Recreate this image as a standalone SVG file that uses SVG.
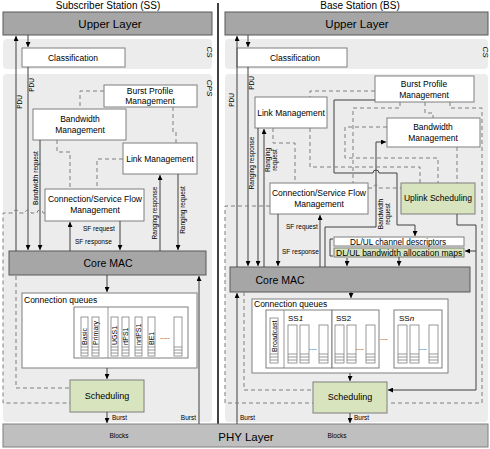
<svg xmlns="http://www.w3.org/2000/svg" width="490" height="449" viewBox="0 0 490 449">
<defs>
<marker id="ah" viewBox="0 0 6 6" refX="6" refY="3" markerWidth="5" markerHeight="5" orient="auto" markerUnits="userSpaceOnUse"><path d="M0,0 L6,3 L0,6 z" fill="#000"/></marker>
<style>
text{font-family:"Liberation Sans",Arial,sans-serif;fill:#000}
.panel{fill:#ececec}
.box{fill:#fff;stroke:#7f7f7f;stroke-width:1}
.green{fill:#d7e4bd;stroke:#7f7f7f;stroke-width:1}
.layer{fill:#a6a6a6;stroke:#595959;stroke-width:1}
.ln{stroke:#404040;stroke-width:1;fill:none}
.arr{stroke:#404040;stroke-width:1;fill:none;marker-end:url(#ah)}
.dash{stroke:#7f7f7f;stroke-width:1;stroke-dasharray:4 3;fill:none}
.t9{font-size:8.5px;text-anchor:middle}
.t7{font-size:6.5px}
.q{fill:#fff;stroke:#7f7f7f;stroke-width:0.8}
.st{stroke:#7f7f7f;stroke-width:0.8}
</style>
</defs>
<rect width="490" height="449" fill="#fff"/>
<g id="titles">
<text x="108" y="8.5" font-size="10" text-anchor="middle">Subscriber Station (SS)</text>
<text x="360" y="8.5" font-size="10" text-anchor="middle">Base Station (BS)</text>
</g>
<g id="panels">
<rect class="panel" x="3" y="39" width="209" height="30" rx="4"/>
<rect class="panel" x="3" y="74" width="209" height="348" rx="4"/>
<rect class="panel" x="225" y="39" width="263" height="30" rx="4"/>
<rect class="panel" x="225" y="74" width="263" height="348" rx="4"/>
<text x="205" y="52" font-size="8" font-style="italic" transform="rotate(90 205 52)" text-anchor="middle" dy="-2">CS</text>
<text x="205" y="88" font-size="8" font-style="italic" transform="rotate(90 205 88)" text-anchor="middle" dy="-2">CPS</text>
<text x="481" y="52" font-size="8" font-style="italic" transform="rotate(90 481 52)" text-anchor="middle" dy="-2">CS</text>
<line x1="218" y1="3" x2="218" y2="424" stroke="#000" stroke-width="1.5"/>
</g>
<g id="ss-upper"><rect class="layer" x="3" y="12" width="209" height="23"/><text x="110" y="28" font-size="11.5" text-anchor="middle">Upper Layer</text></g>
<g id="bs-upper"><rect class="layer" x="225" y="12" width="263" height="23"/><text x="357" y="28" font-size="11.5" text-anchor="middle">Upper Layer</text></g>
<g id="ss-class"><rect class="box" x="22" y="48" width="103" height="19"/><text class="t9" x="73" y="61">Classification</text></g>
<g id="bs-class"><rect class="box" x="237" y="48" width="110" height="19"/><text class="t9" x="295" y="61">Classification</text></g>
<g id="ss-bpm"><rect class="box" x="104" y="85" width="93" height="22"/><text class="t9" x="150" y="94">Burst Profile</text><text class="t9" x="150" y="104">Management</text></g>
<g id="ss-bwm"><rect class="box" x="33" y="109" width="93" height="31"/><text class="t9" x="80" y="122">Bandwidth</text><text class="t9" x="80" y="133">Management</text></g>
<g id="ss-link"><rect class="box" x="123" y="143" width="74" height="31"/><text class="t9" x="160" y="162">Link Management</text></g>
<g id="ss-csf"><rect class="box" x="45" y="189" width="99" height="32"/><text class="t9" x="95" y="202">Connection/Service Flow</text><text class="t9" x="95" y="213">Management</text></g>
<g id="ss-core"><rect class="layer" x="9" y="251" width="197" height="24" fill="#a0a0a0"/><text x="108" y="267" font-size="10.5" text-anchor="middle">Core MAC</text></g>
<g id="ss-queues">
<rect class="box" x="22" y="293" width="175" height="75"/>
<text x="24" y="303" font-size="8.5">Connection queues</text>
<rect class="box" x="74" y="307" width="114" height="51"/>
<line class="st" x1="108" y1="307" x2="108" y2="358"/>
<g id="ssq">
<rect class="q" x="81" y="317" width="7" height="39"/><rect class="q" x="92" y="317" width="7" height="39"/><rect class="q" x="111" y="317" width="7" height="39"/><rect class="q" x="122" y="317" width="7" height="39"/><rect class="q" x="135" y="317" width="7" height="39"/><rect class="q" x="148" y="317" width="7" height="39"/><rect class="q" x="174" y="317" width="8" height="39"/>
<path class="st" d="M81,347h7M81,350h7M81,353h7M92,347h7M92,350h7M92,353h7M111,347h7M111,350h7M111,353h7M122,347h7M122,350h7M122,353h7M135,347h7M135,350h7M135,353h7M148,347h7M148,350h7M148,353h7M174,347h8M174,350h8M174,353h8"/>
</g>
<g font-size="7">
<text transform="translate(87 345) rotate(-90)">Basic</text>
<text transform="translate(98 345) rotate(-90)">Primary</text>
<text transform="translate(117 345) rotate(-90)">UGS1</text>
<text transform="translate(128 345) rotate(-90)">rtPS1</text>
<text transform="translate(141 345) rotate(-90)">nrtPS1</text>
<text transform="translate(154 345) rotate(-90)">BE1</text>
<text x="160" y="339">.....</text>
</g>
</g>
<g id="ss-sched"><rect class="green" x="70" y="380" width="74" height="32"/><text x="107" y="399" font-size="9" text-anchor="middle">Scheduling</text></g>
<g id="bs-link"><rect class="box" x="255" y="97" width="72" height="31"/><text class="t9" x="291" y="116">Link Management</text></g>
<g id="bs-bpm"><rect class="box" x="375" y="76" width="99" height="26"/><text class="t9" x="424" y="87">Burst Profile</text><text class="t9" x="424" y="98">Management</text></g>
<g id="bs-bwm"><rect class="box" x="387" y="118" width="93" height="29"/><text class="t9" x="433" y="130">Bandwidth</text><text class="t9" x="433" y="141">Management</text></g>
<g id="bs-csf"><rect class="box" x="270" y="183" width="98" height="31"/><text class="t9" x="319" y="196">Connection/Service Flow</text><text class="t9" x="319" y="207">Management</text></g>
<g id="bs-uls"><rect class="green" x="401" y="183" width="74" height="31"/><text class="t9" x="438" y="201">Uplink Scheduling</text></g>
<g id="bs-dlul">
<rect class="box" x="334" y="237" width="130" height="9"/><text x="350" y="245" font-size="8.2">DL/UL channel descriptors</text>
<rect class="green" x="334" y="248" width="130" height="9"/><text x="336" y="256" font-size="8.5">DL/UL bandwidth allocation maps</text>
<path class="ln" d="M333,239H330V256H333"/>
</g>
<g id="bs-core"><rect class="layer" x="230" y="267" width="240" height="25" fill="#a0a0a0"/><text x="280" y="284" font-size="10.5" text-anchor="middle">Core MAC</text></g>
<g id="bs-queues">
<rect class="box" x="252" y="299" width="196" height="74"/>
<text x="254" y="307" font-size="8.5">Connection queues</text>
<rect class="box" x="266" y="310" width="66" height="58"/>
<line class="st" x1="284" y1="310" x2="284" y2="368"/>
<rect class="box" x="332" y="310" width="47" height="58"/>
<rect class="box" x="394" y="310" width="48" height="58"/>
<rect class="q" x="270" y="318" width="8" height="45"/>
<rect class="q" x="288" y="325" width="9" height="38"/><rect class="q" x="300" y="325" width="9" height="38"/><rect class="q" x="319" y="325" width="9" height="38"/>
<rect class="q" x="335" y="325" width="9" height="38"/><rect class="q" x="347" y="325" width="9" height="38"/><rect class="q" x="366" y="325" width="9" height="38"/>
<rect class="q" x="398" y="325" width="9" height="38"/><rect class="q" x="410" y="325" width="9" height="38"/><rect class="q" x="429" y="325" width="9" height="38"/>
<path class="st" d="M270,354h8M270,357h8M270,360h8M288,354h9M288,357h9M288,360h9M300,354h9M300,357h9M300,360h9M319,354h9M319,357h9M319,360h9M335,354h9M335,357h9M335,360h9M347,354h9M347,357h9M347,360h9M366,354h9M366,357h9M366,360h9M398,354h9M398,357h9M398,360h9M410,354h9M410,357h9M410,360h9M429,354h9M429,357h9M429,360h9"/>
<text transform="translate(277 352) rotate(-90)" font-size="7">Broadcast</text>
<text x="288" y="321" font-size="8">SS<tspan font-style="italic">1</tspan></text>
<text x="336" y="321" font-size="8">SS2</text>
<text x="399" y="321" font-size="8">SS<tspan font-style="italic">n</tspan></text>
<g font-size="7"><text x="309" y="350">....</text><text x="356" y="350">....</text><text x="419" y="350">....</text></g>
<text x="380" y="340" font-size="7">....</text>
</g>
<g id="bs-sched"><rect class="green" x="313" y="382" width="74" height="31"/><text x="350" y="400" font-size="9" text-anchor="middle">Scheduling</text></g>
<g id="phy"><rect x="3" y="424" width="485" height="23" fill="#bfbfbf" stroke="#7f7f7f"/><text x="246" y="441" font-size="11.5" text-anchor="middle">PHY Layer</text>
<text x="119" y="438" font-size="6.5" text-anchor="middle">Blocks</text><text x="337" y="438" font-size="6.5" text-anchor="middle">Blocks</text></g>
<g id="connectors">
<path class="arr" d="M16,251V36"/>
<path class="arr" d="M28,35V47"/>
<path class="arr" d="M28,67V250"/>
<path class="arr" d="M40,140V250"/>
<path class="arr" d="M70,251V222"/>
<path class="arr" d="M120,221V250"/>
<path class="arr" d="M160,251V175"/>
<path class="arr" d="M178,174V250"/>
<path class="arr" d="M107,275V292"/>
<path class="arr" d="M107,368V379"/>
<path class="arr" d="M107,412V423"/>
<path class="arr" d="M199,424V276"/>
<path class="dash" d="M104,91H80V109"/>
<path class="dash" d="M173,107V132H176V143"/>
<path class="dash" d="M57,140V152H70V189"/>
<path class="dash" d="M123,159H97V189"/>
<path class="dash" d="M45,213H43a3,3 0 0 0 -6,0H31a3,3 0 0 0 -6,0H19a3,3 0 0 0 -6,0H3V403H70"/>
<path class="dash" d="M16,276V388H70"/>
<g class="t7">
<text transform="translate(22 102) rotate(-90)" text-anchor="middle">PDU</text>
<text transform="translate(34 85) rotate(-90)" text-anchor="middle">PDU</text>
<text transform="translate(38 178) rotate(-90)" text-anchor="middle">Bandwidth request</text>
<text transform="translate(157 213) rotate(-90)" text-anchor="middle">Ranging response</text>
<text transform="translate(185 210) rotate(-90)" text-anchor="middle">Ranging request</text>
<text x="83" y="231">SF request</text>
<text x="75" y="244">SF response</text>
<text x="112" y="420">Burst</text>
<text x="196" y="420" text-anchor="end">Burst</text>
</g>
<path class="arr" d="M237,267V36"/>
<path class="arr" d="M248,35V47"/>
<path class="arr" d="M248,67V266"/>
<path class="arr" d="M264,267V129"/>
<path class="arr" d="M258,128V266"/>
<path class="arr" d="M278,214V266"/>
<path class="arr" d="M320,267V215"/>
<path class="arr" d="M237,424V293"/>
<path class="arr" d="M351,292V298"/>
<path class="arr" d="M350,373V381"/>
<path class="arr" d="M350,413V423"/>
<path class="arr" d="M325,267V227H376V142H386"/>
<path class="arr" d="M375,100H334V173H373a3,3 0 0 1 6,0H397V225H415V236"/>
<path class="arr" d="M457,214V225H476V390H388"/>
<path class="arr" d="M476,251H465"/>
<path class="arr" d="M399,257V266"/>
<path class="arr" d="M347,258V266"/>
<path class="dash" d="M375,91H310V97"/>
<path class="dash" d="M400,102V108H353V183"/>
<path class="dash" d="M425,102V113H433V118"/>
<path class="dash" d="M450,102V108H482V403H388"/>
<path class="dash" d="M387,127H345V158H438V183"/>
<path class="dash" d="M310,128V167H420V183"/>
<path class="dash" d="M273,128V143H295V183"/>
<path class="dash" d="M457,147V183"/>
<path class="dash" d="M368,188H373a3,3 0 0 1 6,0H401"/>
<path class="dash" d="M270,206H225V403H313"/>
<path class="dash" d="M244,292V390H313"/>
<g class="t7">
<text transform="translate(234 100) rotate(-90)" text-anchor="middle">PDU</text>
<text transform="translate(254 83) rotate(-90)" text-anchor="middle">PDU</text>
<text transform="translate(254 163) rotate(-90)" text-anchor="middle">Ranging response</text>
<text transform="translate(270 160) rotate(-90)" text-anchor="middle">Ranging</text>
<text transform="translate(277 160) rotate(-90)" text-anchor="middle">request</text>
<text transform="translate(383 214) rotate(-90)" text-anchor="middle">Bandwidth</text>
<text transform="translate(390 214) rotate(-90)" text-anchor="middle">request</text>
<text x="286" y="229">SF request</text>
<text x="282" y="254">SF response</text>
<text x="240" y="420">Burst</text>
<text x="354" y="420">Burst</text>
</g>
</g>
</svg>
